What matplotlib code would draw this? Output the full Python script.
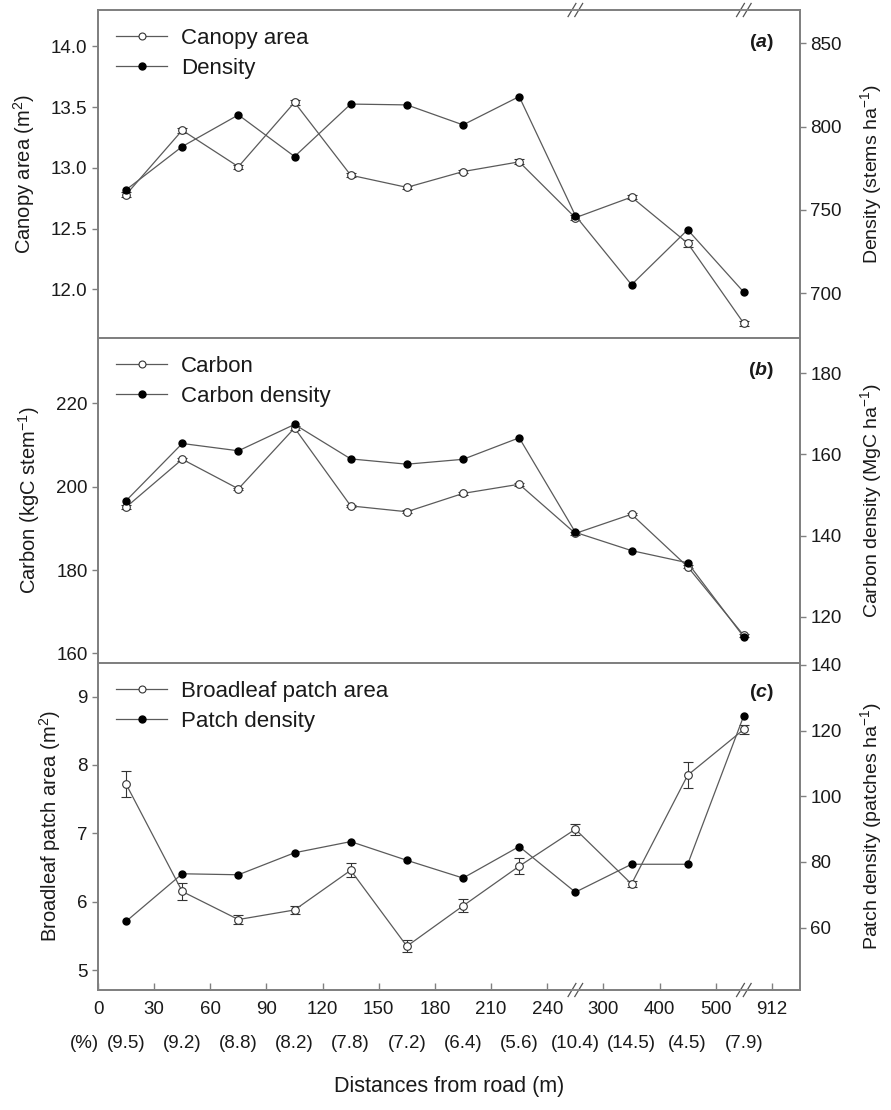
import numpy as np
import matplotlib
matplotlib.use("Agg")
import matplotlib.pyplot as plt
import matplotlib.transforms as mtransforms

plt.rcParams['font.family'] = ['Liberation Sans', 'DejaVu Sans']
plt.rcParams['mathtext.fontset'] = 'custom'
plt.rcParams['mathtext.rm'] = 'Liberation Sans'
plt.rcParams['mathtext.it'] = 'Liberation Sans:italic'
plt.rcParams['mathtext.bf'] = 'Liberation Sans:bold'
plt.rcParams['mathtext.sf'] = 'Liberation Sans:bold:italic'

# x axis
tick_labels = ['0', '30', '60', '90', '120', '150', '180', '210', '240', '300', '400', '500', '912']
pct_labels = ['(9.5)', '(9.2)', '(8.8)', '(8.2)', '(7.8)', '(7.2)', '(6.4)', '(5.6)',
              '(10.4)', '(14.5)', '(4.5)', '(7.9)']
breaks = [8.5, 11.5]

# (a)
canopy_area = [12.78, 13.31, 13.01, 13.54, 12.94, 12.84, 12.97, 13.05, 12.59, 12.76, 12.38, 11.72]
canopy_err = [0.02, 0.02, 0.015, 0.02, 0.015, 0.015, 0.015, 0.02, 0.02, 0.015, 0.03, 0.02]
density = [762, 788, 807, 782, 813.5, 813, 801, 818, 746.5, 705, 738, 700.5]

# (b)
carbon = [195.1, 206.6, 199.5, 214.1, 195.4, 194.0, 198.4, 200.6, 188.8, 193.4, 180.8, 164.3]
carbon_err = [0.4, 0.4, 0.3, 0.4, 0.3, 0.3, 0.3, 0.4, 0.4, 0.3, 0.4, 0.4]
carbon_density = [148.6, 162.7, 160.9, 167.4, 158.9, 157.6, 158.8, 164.1, 140.8, 136.3, 133.3, 115.0]

# (c)
patch_area = [7.72, 6.15, 5.74, 5.88, 6.46, 5.35, 5.94, 6.52, 7.06, 6.26, 7.85, 8.52]
patch_err = [0.19, 0.13, 0.07, 0.06, 0.1, 0.09, 0.095, 0.12, 0.08, 0.04, 0.19, 0.07]
patch_density = [61.9, 76.4, 76.1, 82.8, 86.2, 80.5, 75.1, 84.7, 70.8, 79.3, 79.3, 124.6]

pos = np.arange(len(pct_labels)) + 0.5

W, H = 891, 1110
fig = plt.figure(figsize=(W / 100, H / 100), dpi=100)

spine_col = '#808080'
line_col = '#5a5a5a'
txt_col = '#1a1a1a'


def make_axes(top, bottom):
    ax = fig.add_axes([98 / W, 1 - bottom / H, 702 / W, (bottom - top) / H])
    ax2 = ax.twinx()
    for a in (ax, ax2):
        for s in a.spines.values():
            s.set_color(spine_col)
            s.set_linewidth(1.3)
        a.tick_params(colors=spine_col, labelcolor=txt_col, labelsize=13.5, length=4, width=1)
    ax.set_xlim(0, 12.5)
    return ax, ax2


def draw_pair(ax, ax2, y1, err, y2, lab1, lab2):
    ax.errorbar(pos, y1, yerr=err, color=line_col, lw=0.9, marker='o', ms=5.5,
                mfc='white', mec='#333333', mew=0.8, ecolor='#333333', elinewidth=0.8,
                capsize=3.5, capthick=0.8, zorder=3)
    ax2.plot(pos, y2, color=line_col, lw=0.9, marker='o', ms=5, mfc='black', mec='black', zorder=3)
    h1 = plt.Line2D([], [], color=line_col, lw=0.9, marker='o', ms=5, mfc='white', mec='#333333', mew=0.8)
    h2 = plt.Line2D([], [], color=line_col, lw=0.9, marker='o', ms=5, mfc='black', mec='black')
    leg = ax2.legend([h1, h2], [lab1, lab2], loc='upper left', bbox_to_anchor=(0.026, 0.946),
                     frameon=False, fontsize=16, handlelength=2.3, handletextpad=0.6,
                     labelspacing=0.42, borderaxespad=0, borderpad=0)
    for t in leg.get_texts():
        t.set_color(txt_col)


def panel_label(ax, letter, y):
    ax.text(0.963, y, r'$\mathbf{(}\mathsf{' + letter + r'}\mathbf{)}$', transform=ax.transAxes,
            ha='right', va='center', fontsize=14, color=txt_col)


def break_marks(ax, yfrac):
    tr = mtransforms.blended_transform_factory(ax.transData, ax.transAxes)
    for b in breaks:
        ax.plot([b - 0.07, b + 0.07], [yfrac, yfrac], color='white', lw=3, transform=tr,
                clip_on=False, zorder=10, solid_capstyle='butt')
        for dx in (-0.06, 0.06):
            ax.plot([b + dx - 0.07, b + dx + 0.07], [yfrac - 0.02, yfrac + 0.02], color='#555555',
                    lw=0.9, transform=tr, clip_on=False, zorder=11)


# panel a
axa, axa2 = make_axes(10, 338)
draw_pair(axa, axa2, canopy_area, canopy_err, density, 'Canopy area', 'Density')
axa.set_ylim(11.6, 14.3)
axa.set_yticks([12.0, 12.5, 13.0, 13.5, 14.0])
axa.set_yticklabels(['12.0', '12.5', '13.0', '13.5', '14.0'])
axa2.set_ylim(673, 870)
axa2.set_yticks([700, 750, 800, 850])
axa.set_ylabel('Canopy area (m$^2$)', fontsize=14.5, color=txt_col, labelpad=10)
axa2.set_ylabel('Density (stems ha$^{-1}$)', fontsize=14, color=txt_col, labelpad=12)
panel_label(axa, 'a', 0.9)
axa.set_xticks([])
break_marks(axa, 1.0)

# panel b
axb, axb2 = make_axes(338, 663)
draw_pair(axb, axb2, carbon, carbon_err, carbon_density, 'Carbon', 'Carbon density')
axb.set_ylim(157.7, 235.7)
axb.set_yticks([160, 180, 200, 220])
axb2.set_ylim(108.6, 188.7)
axb2.set_yticks([120, 140, 160, 180])
axb.set_ylabel('Carbon (kgC stem$^{-1}$)', fontsize=14.5, color=txt_col, labelpad=10)
axb2.set_ylabel('Carbon density (MgC ha$^{-1}$)', fontsize=14, color=txt_col, labelpad=12)
panel_label(axb, 'b', 0.9)
axb.set_xticks([])

# panel c
axc, axc2 = make_axes(663, 990)
draw_pair(axc, axc2, patch_area, patch_err, patch_density, 'Broadleaf patch area', 'Patch density')
axc.set_ylim(4.71, 9.49)
axc.set_yticks([5, 6, 7, 8, 9])
axc2.set_ylim(41, 140.6)
axc2.set_yticks([60, 80, 100, 120, 140])
axc.set_ylabel('Broadleaf patch area (m$^2$)', fontsize=14.5, color=txt_col, labelpad=10)
axc2.set_ylabel('Patch density (patches ha$^{-1}$)', fontsize=14, color=txt_col, labelpad=12)
panel_label(axc, 'c', 0.91)
axc.set_xticks(np.arange(len(tick_labels)))
axc.set_xticklabels(tick_labels)
axc.tick_params(axis='x', direction='in', length=5, pad=8)
break_marks(axc, 0.0)

trc = mtransforms.blended_transform_factory(axc.transData, axc.transAxes)
for p, lab in zip(pos, pct_labels):
    axc.text(p, -0.163, lab, transform=trc, ha='center', va='center', fontsize=13.5, color=txt_col)
axc.text(-0.25, -0.163, '(%)', transform=trc, ha='center', va='center', fontsize=13.5, color=txt_col)
axc.text(0.5, -0.295, 'Distances from road (m)', transform=axc.transAxes, ha='center',
         va='center', fontsize=15.5, color=txt_col)

fig.savefig('out.png', dpi=100)
